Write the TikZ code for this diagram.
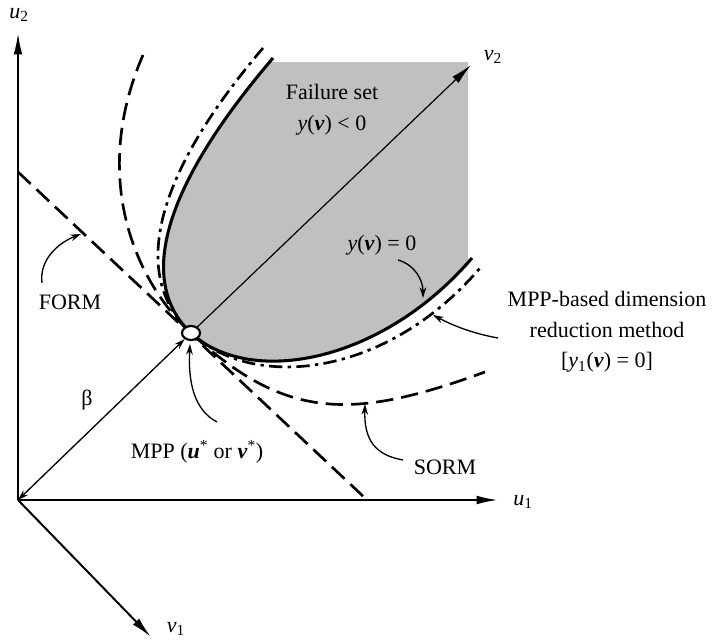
\documentclass[tikz,border=0pt]{standalone}
\usepackage{fontspec}
\setmainfont{Liberation Serif}
\usepackage{tikz}
\usetikzlibrary{arrows.meta}
\usetikzlibrary{shapes.geometric}

\definecolor{failgray}{RGB}{192,192,192}
\newcommand{\bv}{\textbf{\textit{v}}}
\newcommand{\bu}{\textbf{\textit{u}}}

\begin{document}
\begin{tikzpicture}[x=0.75pt,y=0.75pt,yscale=-1,xscale=1,
    axis/.style={line width=1.5pt,-{Latex[length=16pt,width=6.5pt]}},
    thinaxis/.style={line width=0.9pt,-{Latex[length=16pt,width=6.5pt]}},
    lbl/.style={inner sep=0.75pt,font=\fontsize{16.5}{23}\selectfont},
    pointer/.style={line width=1pt,-{Stealth[length=8pt,width=5pt]}},
    limitline/.style={line width=2.3pt},
    formline/.style={line width=2pt,dash pattern=on 13pt off 6pt},
    sormline/.style={line width=2pt,dash pattern=on 13pt off 6pt},
    drmline/.style={line width=2pt,dash pattern=on 10pt off 4pt on 2.5pt off 4pt}
]
    \useasboundingbox (0,0) rectangle (714,641);

    % points
    \coordinate (O) at (18,500);
    \coordinate (MPP) at (191,333);
    \coordinate (u1end) at (498,500);
    \coordinate (u2end) at (18,33);
    \coordinate (v1end) at (151,637);
    \coordinate (v2end) at (471,65);
    \coordinate (formTop) at (18,172);
    \coordinate (formBot) at (365,498);

    %Shape: failure set
    \begin{scope}
        \clip (0,63) rectangle (468,641);
        \fill [failgray] (273,58) .. controls (156,195) and (140,285) .. (MPP) .. controls (249,387) and (381,364) .. (472,258) -- (472,58) -- cycle ;
    \end{scope}

    %Axes
    \draw [axis] (O) -- (u2end) ;
    \draw [axis] (O) -- (u1end) ;
    \draw [axis] (O) -- (v1end) ;
    \draw [thinaxis] (MPP) -- (v2end) ;

    %FORM
    \draw [formline] (formTop) -- (formBot) ;
    %SORM
    \draw [sormline] (143,55) .. controls (91,175) and (133,279) .. (MPP) .. controls (286,421) and (353,420) .. (485,372) ;
    %MPP-based DRM
    \draw [drmline] (263,48) .. controls (143,189) and (136,282) .. (MPP) .. controls (253,391) and (386,378) .. (480,268) ;
    %Limit state y(v)=0
    \draw [limitline] (273,58) .. controls (156,195) and (140,285) .. (MPP) .. controls (249,387) and (381,364) .. (472,258) ;

    %MPP
    \node [ellipse,draw,line width=1.6pt,fill=white,minimum width=13.5pt,minimum height=10.5pt,inner sep=0pt] (mpp) at (MPP) {};
    \draw [line width=1pt,{Stealth[length=8pt,width=5pt]}-{Stealth[length=8pt,width=5pt]}] (mpp) -- (O) ;

    % Text Node
    \node [lbl] (lblU2) at (19,15) {\textit{u}\textsubscript{2}};
    \node [lbl] (lblU1) at (523,502) {\textit{u}\textsubscript{1}};
    \node [lbl] (lblV1) at (176,629) {\textit{v}\textsubscript{1}};
    \node [lbl] (lblV2) at (493,57) {\textit{v}\textsubscript{2}};
    \node [lbl] (lblBeta) at (87,400) {β};
    \node [lbl,align=center] (lblFail) at (332,110) {Failure set\\\textit{y}(\bv) < 0};
    \node [lbl] (lblLimit) at (382,245) {\textit{y}(\bv) = 0};
    \node [lbl] (lblForm) at (70,302) {FORM};
    \node [lbl] (lblSorm) at (445,467) {SORM};
    \node [lbl] (lblMpp) at (197,452) {MPP (\bu\textsuperscript{*} or \bv\textsuperscript{*})};
    \node [lbl,align=center] (lblDrm) at (607,332) {MPP-based dimension\\reduction method\\{[}\textit{y}\textsubscript{1}(\bv) = 0]};

    %Pointers
    \coordinate (formTail) at (42,283);
    \coordinate (formTip) at (81,234);
    \draw [pointer] (formTail) .. controls (39,260) and (58,243) .. (formTip) ;
    \coordinate (mppTail) at (217,422);
    \coordinate (mppTip) at (190,344);
    \draw [pointer] (mppTail) .. controls (194,410) and (188,382) .. (mppTip) ;
    \coordinate (limitTail) at (398,260);
    \coordinate (limitTip) at (423,298);
    \draw [pointer] (limitTail) .. controls (415,265) and (423,280) .. (limitTip) ;
    \coordinate (drmTail) at (498,338);
    \coordinate (drmTip) at (433,315);
    \draw [pointer] (drmTail) .. controls (470,333) and (450,324) .. (drmTip) ;
    \coordinate (sormTail) at (403,460);
    \coordinate (sormTip) at (365,404);
    \draw [pointer] (sormTail) .. controls (375,455) and (364,440) .. (sormTip) ;

\end{tikzpicture}
\end{document}
